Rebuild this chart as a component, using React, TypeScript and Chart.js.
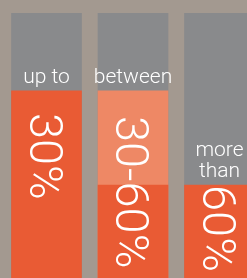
import React, { useEffect, useRef } from "react";
import { Chart, registerables } from "chart.js";

Chart.register(...registerables);

const categories = ["up to", "between", "more\nthan"];
const valueLabels = ["30%", "30-60%", "60%"];
const backgroundValues = [100, 100, 100];
const lightValues = [0, 70.6, 0];
const darkValues = [70.6, 35.1, 35.1];

const COLORS = {
  page: "#a39990",
  gray: "#898a8c",
  light: "#ee8865",
  dark: "#e95b34",
};

const textPlugin = {
  id: "infoText",
  afterDatasetsDraw(chart: any) {
    const { ctx } = chart;
    const xs = chart.scales.x;
    const ys = chart.scales.y;
    const rotOffsets = [22, 25, 0];
    ctx.save();
    ctx.fillStyle = "#ffffff";
    categories.forEach((cat, i) => {
      const x = xs.getPixelForValue(i);
      const topVal = Math.max(lightValues[i], darkValues[i]);
      const top = ys.getPixelForValue(topVal);
      // category label above the orange bar
      ctx.font = "300 21px Roboto, 'Helvetica Neue', Arial, sans-serif";
      ctx.textAlign = "center";
      ctx.textBaseline = "alphabetic";
      const lines = cat.split("\n");
      const lh = 21;
      lines.forEach((ln, j) => {
        const y = top - 8 - (lines.length - 1 - j) * lh;
        ctx.fillText(ln, x, y);
      });
      // rotated big value label
      ctx.save();
      ctx.font = "300 47px Roboto, 'Helvetica Neue', Arial, sans-serif";
      ctx.textAlign = "left";
      ctx.textBaseline = "alphabetic";
      ctx.translate(x - 16.5, top + rotOffsets[i]);
      ctx.rotate(Math.PI / 2);
      ctx.fillText(valueLabels[i], 0, 0);
      ctx.restore();
    });
    ctx.restore();
  },
};

export default function App() {
  const ref = useRef<HTMLCanvasElement | null>(null);
  useEffect(() => {
    if (!ref.current) return;
    const chart = new Chart(ref.current, {
      type: "bar",
      data: {
        datasets: [
          {
            label: "dark",
            data: darkValues.map((v, i) => ({ x: i, y: v })),
            backgroundColor: COLORS.dark,
            order: 1,
          },
          {
            label: "light",
            data: lightValues.map((v, i) => ({ x: i, y: v })),
            backgroundColor: COLORS.light,
            order: 2,
          },
          {
            label: "background",
            data: backgroundValues.map((v, i) => ({ x: i, y: v })),
            backgroundColor: COLORS.gray,
            order: 3,
          },
        ],
      },
      options: {
        animation: false,
        responsive: false,
        maintainAspectRatio: false,
        layout: { padding: { top: 13, left: 0, right: 0, bottom: 0 } },
        datasets: { bar: { barThickness: 70, grouped: false, borderWidth: 0 } } as any,
        plugins: { legend: { display: false }, tooltip: { enabled: false } },
        scales: {
          x: { type: "linear", display: false, min: -0.53757, max: 2.31792, offset: false },
          y: { display: false, min: 0, max: 100 },
        },
      },
      plugins: [textPlugin],
    });
    return () => chart.destroy();
  }, []);
  return (
    <div
      style={{
        position: "fixed",
        left: 0,
        top: 0,
        width: 247,
        height: 278,
        background: COLORS.page,
        overflow: "hidden",
      }}
    >
      <canvas ref={ref} width={247} height={278} style={{ display: "block" }} />
    </div>
  );
}
